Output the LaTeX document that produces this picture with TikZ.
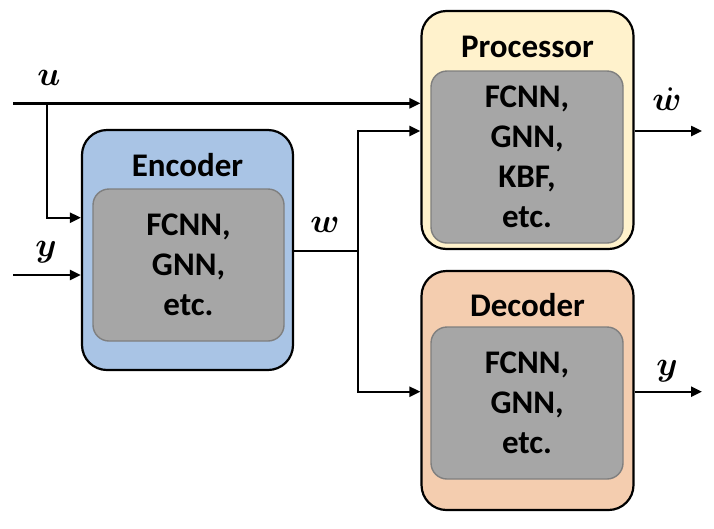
\RequirePackage{fix-cm}
\documentclass[tikz,border=0pt]{standalone}
\usepackage{fontspec}
\setmainfont{Carlito}
\usepackage{amsmath,bm,graphicx}
\usetikzlibrary{arrows.meta,calc}
\definecolor{encblue}{HTML}{A9C4E5}
\definecolor{procyel}{HTML}{FFF2CC}
\definecolor{decorg}{HTML}{F4CDAF}
\definecolor{innergray}{HTML}{A6A6A6}
\definecolor{innerline}{HTML}{7F7F7F}
\newcommand{\biglab}[1]{\scalebox{3.4}{$#1$}}
\tikzset{
  outerbox/.style={draw=black, line width=2.2pt, rounded corners=25pt, inner sep=0pt},
  innerbox/.style={draw=innerline, fill=innergray, line width=1.4pt, rounded corners=16pt,
    inner sep=0pt, align=center, font=\fontsize{33}{40}\selectfont\bfseries},
  titletext/.style={font=\fontsize{33}{40}\selectfont\bfseries, inner sep=0pt},
  mathlabel/.style={inner sep=0pt},
  conn/.style={line width=2.4pt},
  arr/.style={conn, -{Triangle[length=11pt,width=10pt]}},
}
\begin{document}
\begin{tikzpicture}[x=1pt,y=-1pt]
\useasboundingbox (0,0) rectangle (714,528);
% Encoder
\node[outerbox, fill=encblue, minimum width=211pt, minimum height=240pt] (enc) at (187.5,250) {};
\node[innerbox, minimum width=191pt, minimum height=152pt] (encin) at (188.5,265) {FCNN,\\GNN,\\etc.};
\node[titletext] (enct) at (187.5,165) {Encoder};
% Processor
\node[outerbox, fill=procyel, minimum width=212pt, minimum height=238pt] (proc) at (527.5,130) {};
\node[innerbox, minimum width=192pt, minimum height=172pt] (procin) at (527,157) {FCNN,\\GNN,\\KBF,\\etc.};
\node[titletext] (proct) at (527.5,47) {Processor};
% Decoder
\node[outerbox, fill=decorg, minimum width=212pt, minimum height=239pt] (dec) at (527.5,390.5) {};
\node[innerbox, minimum width=192pt, minimum height=152pt] (decin) at (527,403) {FCNN,\\GNN,\\etc.};
\node[titletext] (dect) at (527.5,305) {Decoder};
% coordinates
\coordinate (uin) at (13,103.3);
\coordinate (ub) at (47,103.3);
\coordinate (uy) at (0,217.7);
\coordinate (yin) at (13,275);
\coordinate (wy) at (0,251);
\coordinate (split) at (358,251);
\coordinate (py) at (0,131);
\coordinate (dy) at (0,391.7);
\coordinate (pout) at (702,131);
\coordinate (dout) at (702,391.7);
% connectors
\draw[arr] (uin) -- (uin -| proc.west);
\draw[arr] (ub) |- (uy -| enc.west);
\draw[arr] (yin) -- (yin -| enc.west);
\draw[conn] (wy -| enc.east) -- (split);
\draw[arr] (split) |- (py -| proc.west);
\draw[arr] (split) |- (dy -| dec.west);
\draw[arr] (py -| proc.east) -- (pout);
\draw[arr] (dy -| dec.east) -- (dout);
% labels
\node[mathlabel] (lu) at (49,78) {\biglab{\bm{u}}};
\node[mathlabel] (ly) at (46,252) {\biglab{\bm{y}}};
\node[mathlabel] (lw) at (325,225) {\biglab{\bm{w}}};
\node[mathlabel] (lwd) at (667,99) {\biglab{\dot{\bm{w}}}};
\node[mathlabel] (lyo) at (667,371) {\biglab{\bm{y}}};
\end{tikzpicture}
\end{document}
